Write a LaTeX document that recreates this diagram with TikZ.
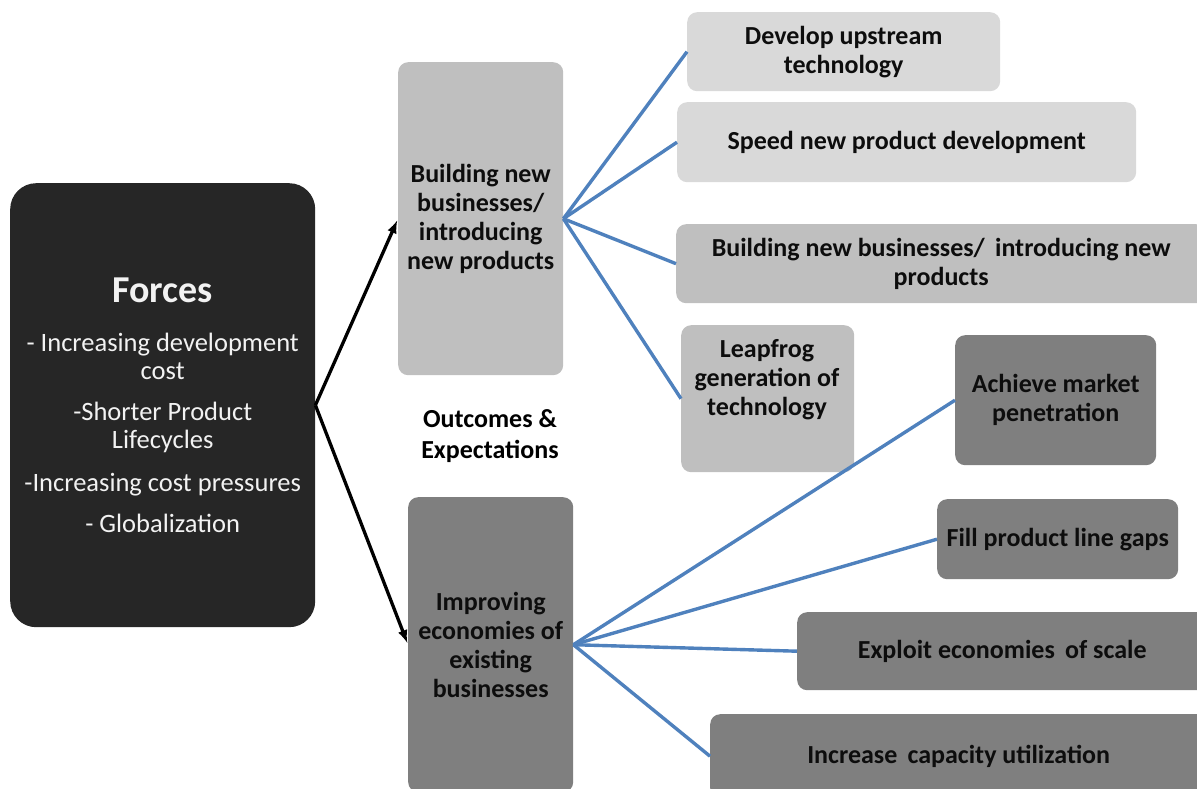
\documentclass[tikz,border=0pt]{standalone}
\usepackage{fontspec}
\setmainfont{Carlito}
\definecolor{forcebg}{HTML}{262626}
\definecolor{palebox}{HTML}{D9D9D9}
\definecolor{midbox}{HTML}{BFBFBF}
\definecolor{darkbox}{HTML}{7F7F7F}
\definecolor{linkblue}{HTML}{4F81BD}
\begin{document}
\begin{tikzpicture}[x=1pt,y=-1pt,>=latex,line join=round,
 box/.style={rounded corners=10pt,anchor=north west,align=center,inner sep=0pt,
  text=black!95,font=\fontsize{26}{29}\selectfont\bfseries},
 pale/.style={box,fill=palebox},
 mid/.style={box,fill=midbox},
 dark/.style={box,fill=darkbox},
 link/.style={draw=linkblue,line width=3.4pt},
 push/.style={->,line width=3.3pt,shorten >=2pt}]
 \useasboundingbox (0,0) rectangle (1197,789);
 % forces on the left
 \node[box,fill=forcebg,rounded corners=26pt,minimum width=305,minimum height=444,
  text=white!95!black,font=\fontsize{26.5}{28}\selectfont] (forces) at (10,183)
  {{\fontsize{38}{28}\selectfont\bfseries Forces}\\[21pt]
   - Increasing development\\cost\\[13pt]
   -Shorter Product\\Lifecycles\\[15pt]
   -Increasing cost pressures\\[13pt]
   - Globalization};
 % the two outcome columns
 \node[mid,minimum width=165,minimum height=313] (newbiz) at (398,62)
  {Building new\\businesses/\\introducing\\new products};
 \node[dark,minimum width=165,minimum height=295] (improve) at (408,497)
  {Improving\\economies of\\existing\\businesses};
 \node[font=\fontsize{26}{31}\selectfont\bfseries,align=center] (outcome) at (490,436)
  {Outcomes \&\\Expectations};
 % targets of new businesses
 \node[pale,minimum width=313,minimum height=79] (dev) at (687,12)
  {Develop upstream\\technology};
 \node[pale,minimum width=459,minimum height=80] (speed) at (677,102)
  {Speed new product development};
 \node[mid,minimum width=530,minimum height=79] (build) at (676,224)
  {Building new businesses/ \,introducing new\\products};
 \node[mid,minimum width=173,minimum height=147] (leap) at (681,325) {};
 \node[box,anchor=center] (leaptext) at (767,380)
  {Leapfrog\\generation of\\technology};
 % targets of existing businesses
 \node[dark,minimum width=201,minimum height=130] (market) at (955,335)
  {Achieve market\\penetration};
 \node[dark,minimum width=241,minimum height=80] (gaps) at (937,499)
  {Fill product line gaps};
 \node[dark,minimum width=410,minimum height=78] (scale) at (797,612)
  {Exploit economies \,of scale};
 \node[dark,minimum width=497,minimum height=84] (capacity) at (710,714)
  {Increase \,capacity utilization};
 % connectors
 \draw[push] (forces.east) -- (newbiz.west);
 \draw[push] (forces.east) -- (improve.west);
 \foreach \t in {dev,speed,build,leap}
  \draw[link] (newbiz.east) -- (\t.west);
 \foreach \t in {market,gaps,scale,capacity}
  \draw[link] (improve.east) -- (\t.west);
\end{tikzpicture}
\end{document}
